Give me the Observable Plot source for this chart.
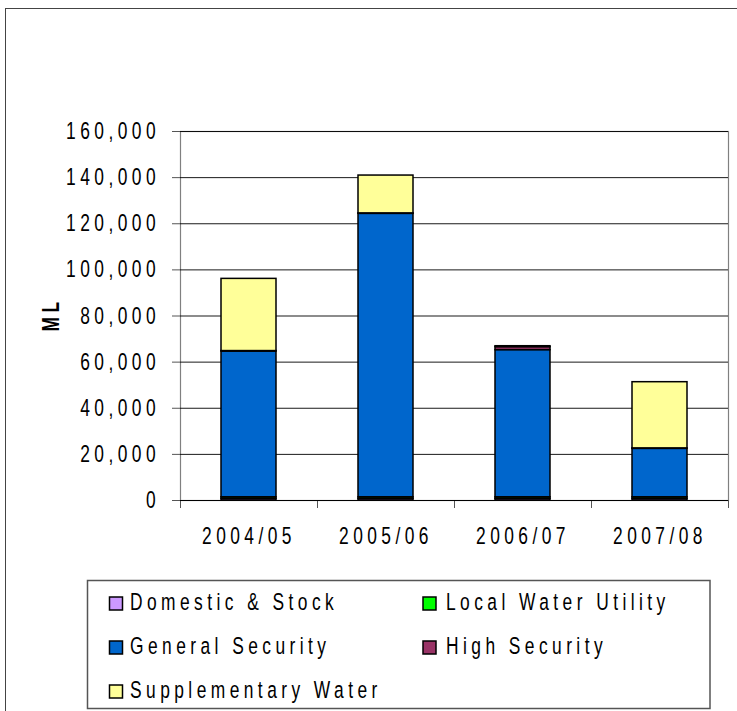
<!DOCTYPE html>
<html>
<head>
<meta charset="utf-8">
<script src="https://cdn.jsdelivr.net/npm/d3@7"></script>
<script src="https://cdn.jsdelivr.net/npm/@observablehq/plot@0.6"></script>
<style>
html, body { margin: 0; padding: 0; background: #fff; }
#page { position: relative; width: 737px; height: 711px; overflow: hidden; background: #fff; }
#frame { position: absolute; left: 5px; top: 8px; width: 900px; height: 900px; border-left: 1.5px solid #444; border-top: 1.5px solid #444; }
#chart { position: absolute; left: 0; top: 0; }
#legend { position: absolute; left: 0; top: 570px; }
</style>
</head>
<body>
<div id="page"><div id="frame"></div><div id="chart"></div><div id="legend"></div></div>
<script>
// ---- data ----
const years = ["2004/05", "2005/06", "2006/07", "2007/08"];
const seriesNames = ["Domestic & Stock", "Local Water Utility", "General Security", "High Security", "Supplementary Water"];
const domesticStock      = [700, 700, 700, 700];
const localWaterUtility  = [700, 700, 700, 700];
const generalSecurity    = [63200, 122900, 63800, 21000];
const highSecurity       = [200, 200, 1300, 200];
const supplementaryWater = [31300, 16400, 400, 28700];
const seriesColors = ["#CC99FF", "#00FF00", "#0066CC", "#993366", "#FFFF99"];
const yTicks = [0, 20000, 40000, 60000, 80000, 100000, 120000, 140000, 160000];
const yLabel = "ML";

const seriesValues = [domesticStock, localWaterUtility, generalSecurity, highSecurity, supplementaryWater];
const rows = years.flatMap((yr, i) => seriesNames.map((s, j) => ({year: yr, series: s, value: seriesValues[j][i]})));

const FONT = "'Liberation Sans', Arial, Helvetica, sans-serif";
const SX = 0.74;

function condense(svg) {
  svg.querySelectorAll("text").forEach(t => {
    let tr = t.getAttribute("transform") || "";
    const x = t.getAttribute("x");
    if (x !== null) { tr += ` translate(${x},0)`; t.removeAttribute("x"); }
    t.setAttribute("transform", tr + ` scale(${SX},1)`);
  });
}

const plot = Plot.plot({
  width: 737,
  height: 560,
  marginLeft: 180,
  marginRight: 9,
  marginTop: 131,
  marginBottom: 60,
  style: {fontFamily: FONT, fontSize: "23.5px", letterSpacing: "6px", color: "#000", background: "transparent", overflow: "visible"},
  x: {domain: years, paddingInner: 0.6, paddingOuter: 0.3, label: null, axis: null},
  y: {domain: [0, 160000], label: null, axis: null},
  color: {domain: seriesNames, range: seriesColors},
  marks: [
    Plot.frame({stroke: "#808080", strokeWidth: 1.2}),
    Plot.gridY(yTicks, {stroke: "#000", strokeOpacity: 0.9, strokeWidth: 1}),
    Plot.axisY(yTicks, {tickSize: 8, tickPadding: 12.5, tickFormat: d3.format(","), stroke: "#555", fill: "#000", label: null}),
    Plot.axisX(years, {tickSize: 8, dx: 68.5, tickFormat: () => "", stroke: "#555", label: null}),
    Plot.axisX([years[0]], {tickSize: 8, dx: -68.5, tickFormat: () => "", stroke: "#555", label: null}),
    Plot.axisX(years, {tickSize: 0, tickPadding: 27, dx: 0, fill: "#000", label: null}),
    Plot.barY(rows, {x: "year", y: "value", fill: "series", stroke: "#000", strokeWidth: 1.5, order: seriesNames}),
    Plot.ruleY([0], {stroke: "#000", strokeWidth: 1.2}),
    Plot.text([yLabel], {frameAnchor: "left", rotate: -90, dx: -129, dy: 15.5, fontWeight: "bold", fill: "#000"})
  ]
});
condense(plot);
document.getElementById("chart").appendChild(plot);

// ---- legend ----
const color = plot.scale("color");
const lg = d3.create("svg")
  .attr("width", 737).attr("height", 141)
  .style("font-family", FONT).style("font-size", "23.5px").style("letter-spacing", "6px");
lg.append("rect").attr("x", 87.5).attr("y", 10.5).attr("width", 622.5).attr("height", 128)
  .attr("fill", "#fff").attr("stroke", "#555").attr("stroke-width", 1.5);
const baselines = [40, 84, 128];
seriesNames.forEach((s, i) => {
  const col = i % 2, row = Math.floor(i / 2);
  const sx = col ? 423 : 109.5;
  const tx = col ? 446 : 130;
  const by = baselines[row];
  lg.append("rect").attr("x", sx).attr("y", by - 13).attr("width", 13).attr("height", 13)
    .attr("fill", color.apply(s)).attr("stroke", "#000").attr("stroke-width", 1.5);
  lg.append("text").attr("transform", `translate(${tx},${by}) scale(${SX},1)`).attr("fill", "#000").text(s);
});
document.getElementById("legend").appendChild(lg.node());
</script>
</body>
</html>
